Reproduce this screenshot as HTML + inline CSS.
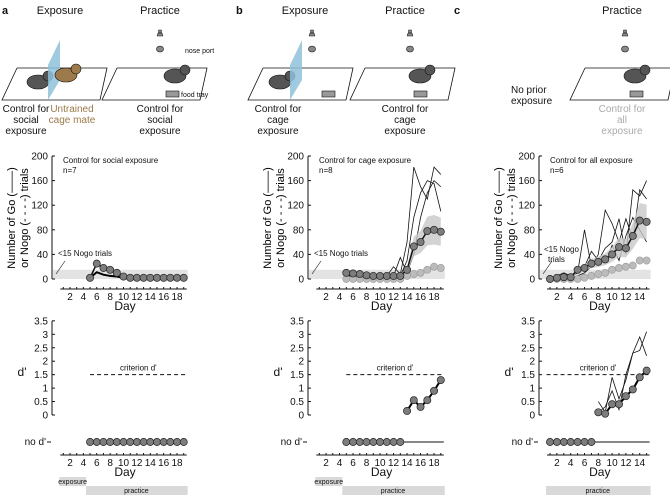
<!DOCTYPE html>
<html><head><meta charset="utf-8"><style>
body{margin:0;background:#fff}
svg{display:block;font-family:"Liberation Sans",sans-serif}
</style></head><body>
<svg id="fig" width="670" height="495" viewBox="0 0 670 495"></svg>
<script>
// ---- data ----
const aGoDays=[5,6,7,8,9,10,11,12,13,14,15,16,17,18,19];
const aGoMean=[2,25,18,15,10,4,2,2,2,2,2,2,2,2,2];
const aGoLine=[2,11,7,5,4,2,1,1,1,1,1,1,1,1,1];
const aNoDays=[5,6,7,8,9,10,11,12,13,14,15,16,17,18,19];
const bGoDays=[5,6,7,8,9,10,11,12,13,14,15,16,17,18,19];
const bGoMean=[10,9,8,6,5,5,5,5,5,15,53,60,78,80,77];
const bNogoMean=[0,0,0,0,0,0,0,0,0,5,8,10,15,20,18];
const bInd1=[5,5,5,5,5,5,5,20,8,60,182,150,130,182,170];
const bInd2=[5,5,5,5,5,5,5,5,5,30,100,140,160,155,110];
const bInd3=[5,5,5,5,5,5,5,5,35,10,40,100,140,160,150];
const bDDays=[14,15,16,17,18,19];
const bDMean=[0.15,0.55,0.3,0.55,0.9,1.3];
const bNoDays=[5,6,7,8,9,10,11,12,13];
const cGoDays=[1,2,3,4,5,6,7,8,9,10,11,12,13,14,15];
const cGoMean=[0,2,3,3,15,18,25,28,32,40,52,50,70,95,93];
const cNogoMean=[0,0,0,0,0,2,5,8,10,15,18,20,22,30,30];
const cInd1=[0,5,10,5,10,80,20,40,112,90,60,98,65,145,130];
const cInd2=[0,0,5,5,10,20,45,30,50,60,98,40,145,135,160];
const cInd3=[0,0,0,0,5,10,20,30,25,55,30,70,100,80,60];
const cDDays=[8,9,10,11,12,13,14,15];
const cDMean=[0.1,0.05,0.4,0.4,0.7,0.95,1.4,1.65];
const cDInd1=[0.5,0.1,1.4,0.6,1.3,2.3,2.9,2.2];
const cDInd2=[0.1,0.3,0.9,0.2,1.5,2.3,2.4,3.1];
const cNoDays=[1,2,3,4,5,6,7];
const yTicks=[0,40,80,120,160,200];
const dTicks=[0,0.5,1,1.5,2,2.5,3,3.5];
// ---- helpers ----
const svg=document.getElementById('fig');
const NS='http://www.w3.org/2000/svg';
function el(t,at,txt){const e=document.createElementNS(NS,t);for(const k in at)e.setAttribute(k,at[k]);if(txt!=null)e.textContent=txt;svg.appendChild(e);return e;}
function txt(x,y,s,sz,anchor,fill,name){const e=el('text',{x:x,y:y,'font-size':sz,'text-anchor':anchor||'start',fill:fill||'#111'},s);

return e;}
function poly(pts,at,name){const e=el('polyline',Object.assign({points:pts.map(p=>p.join(',')).join(' '),fill:'none'},at));

return e;}

function panel(p){
  const X=d=>p.day1+(d-1)*p.step;
  const Y=v=>279-v*0.615;
  const YD=v=>415-v*26.9;
  const xEnd=X(p.lastDay)+3;
  // top chart
  let r=el('rect',{x:p.ax+1,y:Y(15),width:xEnd-p.ax,height:Y(0)-Y(15),fill:'#e3e3e3'});
  
  
  poly([[p.ax,Y(200)],[p.ax,Y(0)]],{stroke:'#111','stroke-width':1},'y-axis');
  yTicks.forEach(v=>{poly([[p.ax,Y(v)],[p.ax+3,Y(v)]],{stroke:'#111'},'y-tick');txt(p.ax-4,Y(v)+3.5,String(v),10,'end','#111','y-tick-label');});
  txt(p.ax+11,163,p.title,8,'start','#111','chart-title');
  txt(p.ax+11,173,p.n,8,'start','#111','n-label');
  const g=el('g',{transform:`translate(${p.ax-37},218) rotate(-90)`});
  
  
  const t1=document.createElementNS(NS,'text');t1.setAttribute('x',0);t1.setAttribute('y',0);t1.setAttribute('font-size',11);t1.setAttribute('text-anchor','middle');t1.textContent='Number of Go (——)';g.appendChild(t1);
  const t2=document.createElementNS(NS,'text');t2.setAttribute('x',0);t2.setAttribute('y',13);t2.setAttribute('font-size',11);t2.setAttribute('text-anchor','middle');t2.textContent='or Nogo (- - - -) trials';g.appendChild(t2);
  // nogo label
  if(p.c){txt(p.ax+5,252,'<15 Nogo',8,'start','#111','nogo-label');txt(p.ax+9,262,'trials',8,'start','#111','nogo-label');}
  else txt(p.ax+6,256,'<15 Nogo trials',8,'start','#111','nogo-label');
  poly([[p.ax+4,274],[p.ax+13,261]],{stroke:'#111','stroke-width':0.6},'nogo-pointer');
  // day axis
  function dayAxis(y){
    poly([[X(1)-3,y],[xEnd,y]],{stroke:'#111'},'x-axis');
    for(let d=1;d<=p.lastDay;d++){poly([[X(d),y],[X(d),y-2]],{stroke:'#111'},'x-tick');if(d%2==0)txt(X(d),y+11,String(d),10,'middle','#111','x-tick-label');}
    txt((X(1)+xEnd)/2,y+21,'Day',12,'middle','#111','x-axis-title');
  }
  dayAxis(289);
  // individual lines
  (p.ind||[]).forEach(s=>poly(p.goDays.map((d,i)=>[X(d),Y(s[i])]),{stroke:'#111','stroke-width':0.8},'individual-go-line'));
  if(p.nogo){
    const band=p.goDays.map((d,i)=>[X(d),Y(p.go[i]*1.3)]).concat(p.goDays.map((d,i)=>[X(d),Y(p.go[i]*0.7)]).reverse());
    let pb=el('polygon',{points:band.map(q=>q.join(',')).join(' '),fill:'#c8c8c8',opacity:0.8});
    
    
    poly(p.goDays.map((d,i)=>[X(d),Y(p.nogo[i])]),{stroke:'#999','stroke-width':1.5,'stroke-dasharray':'3,2'},'nogo-mean-line');
    p.goDays.forEach((d,i)=>{const c=el('circle',{cx:X(d),cy:Y(p.nogo[i]),r:3.6,fill:'#bbb',stroke:'#999','stroke-width':0.6});
      
      });
  }
  if(p.goLine) poly(p.goDays.map((d,i)=>[X(d),Y(p.goLine[i])]),{stroke:'#000','stroke-width':2},'go-median-line');
  poly(p.goDays.map((d,i)=>[X(d),Y(p.go[i])]),{stroke:'#111','stroke-width':1.5},'go-mean-line');
  p.goDays.forEach((d,i)=>{const c=el('circle',{cx:X(d),cy:Y(p.go[i]),r:3.6,fill:'#7d7d7d',stroke:'#222','stroke-width':0.7});
    
    });
  // d' chart
  poly([[p.ax,YD(3.5)],[p.ax,YD(0)]],{stroke:'#111'},'dprime-y-axis');
  dTicks.forEach(v=>{poly([[p.ax,YD(v)],[p.ax+3,YD(v)]],{stroke:'#111'},'dprime-tick');txt(p.ax-4,YD(v)+3.5,String(v),10,'end','#111','dprime-tick-label');});
  txt(p.ax-30,376,"d'",12,'middle','#111','dprime-axis-title');
  poly([[X(p.critStart),YD(1.5)],[xEnd,YD(1.5)]],{stroke:'#111','stroke-dasharray':'4,3'},'criterion-line');
  txt((X(p.critStart)+xEnd)/2,YD(1.5)-4,"criterion d'",8,'middle','#111','criterion-label');
  txt(p.ax-6,445,"no d'",10,'end','#111','no-dprime-label');
  poly([[p.ax-5,442],[p.ax-1,442]],{stroke:'#111'},'no-dprime-tick');
  poly([[X(p.noDays[0]),442],[xEnd,442]],{stroke:'#111','stroke-width':1},'no-dprime-line');
  (p.dInd||[]).forEach(s=>poly(p.dDays.map((d,i)=>[X(d),YD(s[i])]),{stroke:'#111','stroke-width':0.8},'individual-dprime-line'));
  if(p.dDays){
    poly(p.dDays.map((d,i)=>[X(d),YD(p.dMean[i])]),{stroke:'#000','stroke-width':2},'dprime-mean-line');
    p.dDays.forEach((d,i)=>{const c=el('circle',{cx:X(d),cy:YD(p.dMean[i]),r:3.6,fill:'#7d7d7d',stroke:'#222','stroke-width':0.7});
      
      });
  }
  p.noDays.forEach(d=>{const c=el('circle',{cx:X(d),cy:442,r:3.6,fill:'#7d7d7d',stroke:'#222','stroke-width':0.7});
    
    });
  dayAxis(455);
  // phase bars
  if(p.exposure){let e=el('rect',{x:X(1)-4,y:477,width:X(5)-X(1),height:9,fill:'#d9d9d9'});
    
    txt(X(1)-4+(X(5)-X(1))/2,484,'exposure',7,'middle','#111','exposure-label');}
  const ps=p.exposure?X(5)-4:X(1)-4;
  let pr=el('rect',{x:ps,y:486,width:xEnd-ps+1,height:9,fill:'#d9d9d9'});
  
  txt((ps+xEnd)/2,493,'practice',7,'middle','#111','practice-label');
}
panel({ax:52,day1:63.3,step:6.69,lastDay:19,title:'Control for social exposure',n:'n=7',goDays:aGoDays,go:aGoMean,goLine:aGoLine,noDays:aNoDays,critStart:5,exposure:true});
panel({ax:308,day1:319.3,step:6.75,lastDay:19,title:'Control for cage exposure',n:'n=8',goDays:bGoDays,go:bGoMean,nogo:bNogoMean,ind:[bInd1,bInd2,bInd3],dDays:bDDays,dMean:bDMean,noDays:bNoDays,critStart:5,exposure:true});
panel({ax:539,day1:550,step:6.9,lastDay:15,c:true,title:'Control for all exposure',n:'n=6',goDays:cGoDays,go:cGoMean,nogo:cNogoMean,ind:[cInd1,cInd2,cInd3],dDays:cDDays,dMean:cDMean,dInd:[cDInd1,cDInd2],noDays:cNoDays,critStart:0.5,exposure:false});

// ---- illustrations ----
function arena(x0,name){poly([[x0+15,68],[x0+105,68],[x0+98,100],[x0,100],[x0+15,68]],{stroke:'#111','stroke-width':0.8},name);}
function mouse(x,y,col,name){const gg=el('g',{});
  const e1=document.createElementNS(NS,'ellipse');e1.setAttribute('cx',x);e1.setAttribute('cy',y);e1.setAttribute('rx',11);e1.setAttribute('ry',7);e1.setAttribute('fill',col);e1.setAttribute('stroke','#111');e1.setAttribute('stroke-width','0.6');gg.appendChild(e1);
  const e2=document.createElementNS(NS,'circle');e2.setAttribute('cx',x+10);e2.setAttribute('cy',y-6);e2.setAttribute('r',5);e2.setAttribute('fill',col);e2.setAttribute('stroke','#111');e2.setAttribute('stroke-width','0.6');gg.appendChild(e2);
  svg.appendChild(gg);}
function port(x,name){const c=el('ellipse',{cx:x,cy:49,rx:3.5,ry:3,fill:'#888',stroke:'#111','stroke-width':0.6});
  const l=el('path',{d:`M${x-3},${36} h6 l-1,-3 h-4 z M${x-1.5},30 h3 v3 h-3z`,fill:'#888',stroke:'#111','stroke-width':0.5});}
function tray(x,name){const r=el('rect',{x:x,y:91,width:13,height:6,fill:'#999',stroke:'#111','stroke-width':0.6});}
function partition(x,name){const p=el('polygon',{points:`${x+10},40 ${x+10},80 ${x-2},100 ${x-2},65`,fill:'#8fc1d9',opacity:0.85});}
// a
txt(2,14,'a',11,'start','#111','panel-label-a').setAttribute('font-weight','bold');
txt(60,14,'Exposure',11,'middle','#111','exposure-title');
txt(160,14,'Practice',11,'middle','#111','practice-title');
arena(2,'arena-a-exposure');arena(102,'arena-a-practice');
mouse(38,82,'#555','trained-mouse');partition(50,'partition');mouse(66,75,'#9c7a4b','cage-mate');
port(160,'nose-port');txt(185,53,'nose port',7,'start','#111','nose-port-label');
mouse(175,76,'#555','practice-mouse');tray(166,'food-tray');txt(181,97,'food tray',7,'start','#111','food-tray-label');
[['Control for',112],['social',123],['exposure',134]].forEach(s=>txt(26,s[1],s[0],10,'middle','#111','group-label'));
[['Untrained',112],['cage mate',123]].forEach(s=>txt(72,s[1],s[0],10,'middle','#9c7a4b','cage-mate-label'));
[['Control for',112],['social',123],['exposure',134]].forEach(s=>txt(160,s[1],s[0],10,'middle','#111','group-label'));
// b
txt(236,14,'b',11,'start','#111','panel-label-b').setAttribute('font-weight','bold');
txt(305,14,'Exposure',11,'middle','#111','exposure-title');
txt(405,14,'Practice',11,'middle','#111','practice-title');
arena(248,'arena-b-exposure');arena(350,'arena-b-practice');
mouse(280,82,'#555','trained-mouse');partition(292,'partition');port(312,'nose-port');tray(322,'food-tray');
port(410,'nose-port');mouse(420,76,'#555','practice-mouse');tray(414,'food-tray');
[['Control for',112],['cage',123],['exposure',134]].forEach(s=>txt(278,s[1],s[0],10,'middle','#111','group-label'));
[['Control for',112],['cage',123],['exposure',134]].forEach(s=>txt(405,s[1],s[0],10,'middle','#111','group-label'));
// c
txt(454,14,'c',11,'start','#111','panel-label-c').setAttribute('font-weight','bold');
txt(622,14,'Practice',11,'middle','#111','practice-title');
txt(511,93,'No prior',10,'start','#111','no-prior-label');txt(511,104,'exposure',10,'start','#111','no-prior-label');
arena(570,'arena-c-practice');port(625,'nose-port');mouse(635,76,'#555','practice-mouse');tray(630,'food-tray');
[['Control for',112],['all',123],['exposure',134]].forEach(s=>txt(622,s[1],s[0],10,'middle','#aaa','group-label'));
</script>
</body></html>
